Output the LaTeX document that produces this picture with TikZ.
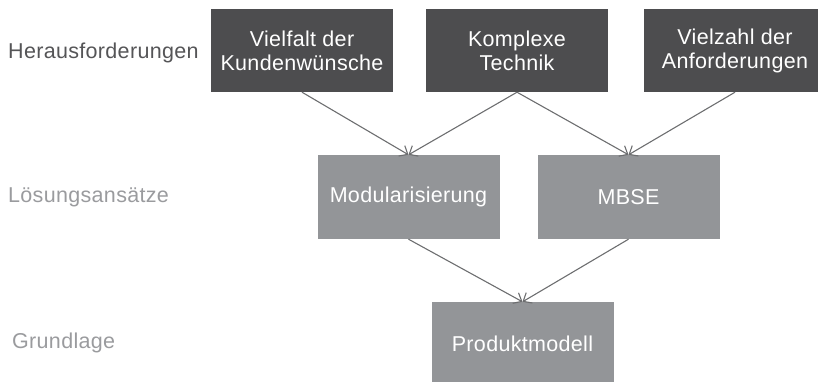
\documentclass[tikz,border=0pt]{standalone}
\usepackage{fontspec}
\setmainfont[LetterSpace=1.5]{Liberation Sans}
\usetikzlibrary{arrows.meta}
\definecolor{darkbox}{HTML}{4D4D4F}
\definecolor{midbox}{HTML}{939598}
\definecolor{linecol}{HTML}{6D6E70}
\definecolor{darklabel}{HTML}{555557}
\definecolor{lightlabel}{HTML}{9A9B9E}
\begin{document}
\begin{tikzpicture}[x=1pt,y=1pt,
  txt/.style={font=\fontsize{21.5}{24}\selectfont},
  darkstep/.style={txt,rectangle,fill=darkbox,text=white,minimum width=182pt,minimum height=83pt,inner sep=0pt,align=center},
  midstep/.style={txt,rectangle,fill=midbox,text=white,minimum width=182pt,minimum height=84pt,inner sep=0pt,align=center},
  conn/.style={draw=linecol,line width=1.1pt,-{Straight Barb[length=7pt,width=12pt,line width=1.1pt]}},
  rowlabel/.style={txt,anchor=west,inner sep=0pt}]
\useasboundingbox (0,0) rectangle (818,-382);
\node[rowlabel,text=darklabel] (l1) at (8,-53) {Herausforderungen};
\node[rowlabel,text=lightlabel] (l2) at (8,-197) {Lösungsansätze};
\node[rowlabel,text=lightlabel] (l3) at (12,-343) {Grundlage};
\node[darkstep] (a) at (302,-50.5) {Vielfalt der\\Kundenwünsche};
\node[darkstep] (b) at (517,-50.5) {Komplexe\\Technik};
\node[darkstep] (c) at (735,-50.5) {Vielzahl der\\Anforderungen};
\node[midstep] (m) at (408.5,-197) {Modularisierung};
\node[midstep] (s) at (628.5,-197) {MBSE};
\node[midstep] (p) at (522.5,-344) {Produktmodell};
\draw[conn] (a.south) -- (m.north);
\draw[conn] (b.south) -- (m.north);
\draw[conn] (b.south) -- (s.north);
\draw[conn] (c.south) -- (s.north);
\draw[conn] (m.south) -- (p.north);
\draw[conn] (s.south) -- (p.north);
\end{tikzpicture}
\end{document}
